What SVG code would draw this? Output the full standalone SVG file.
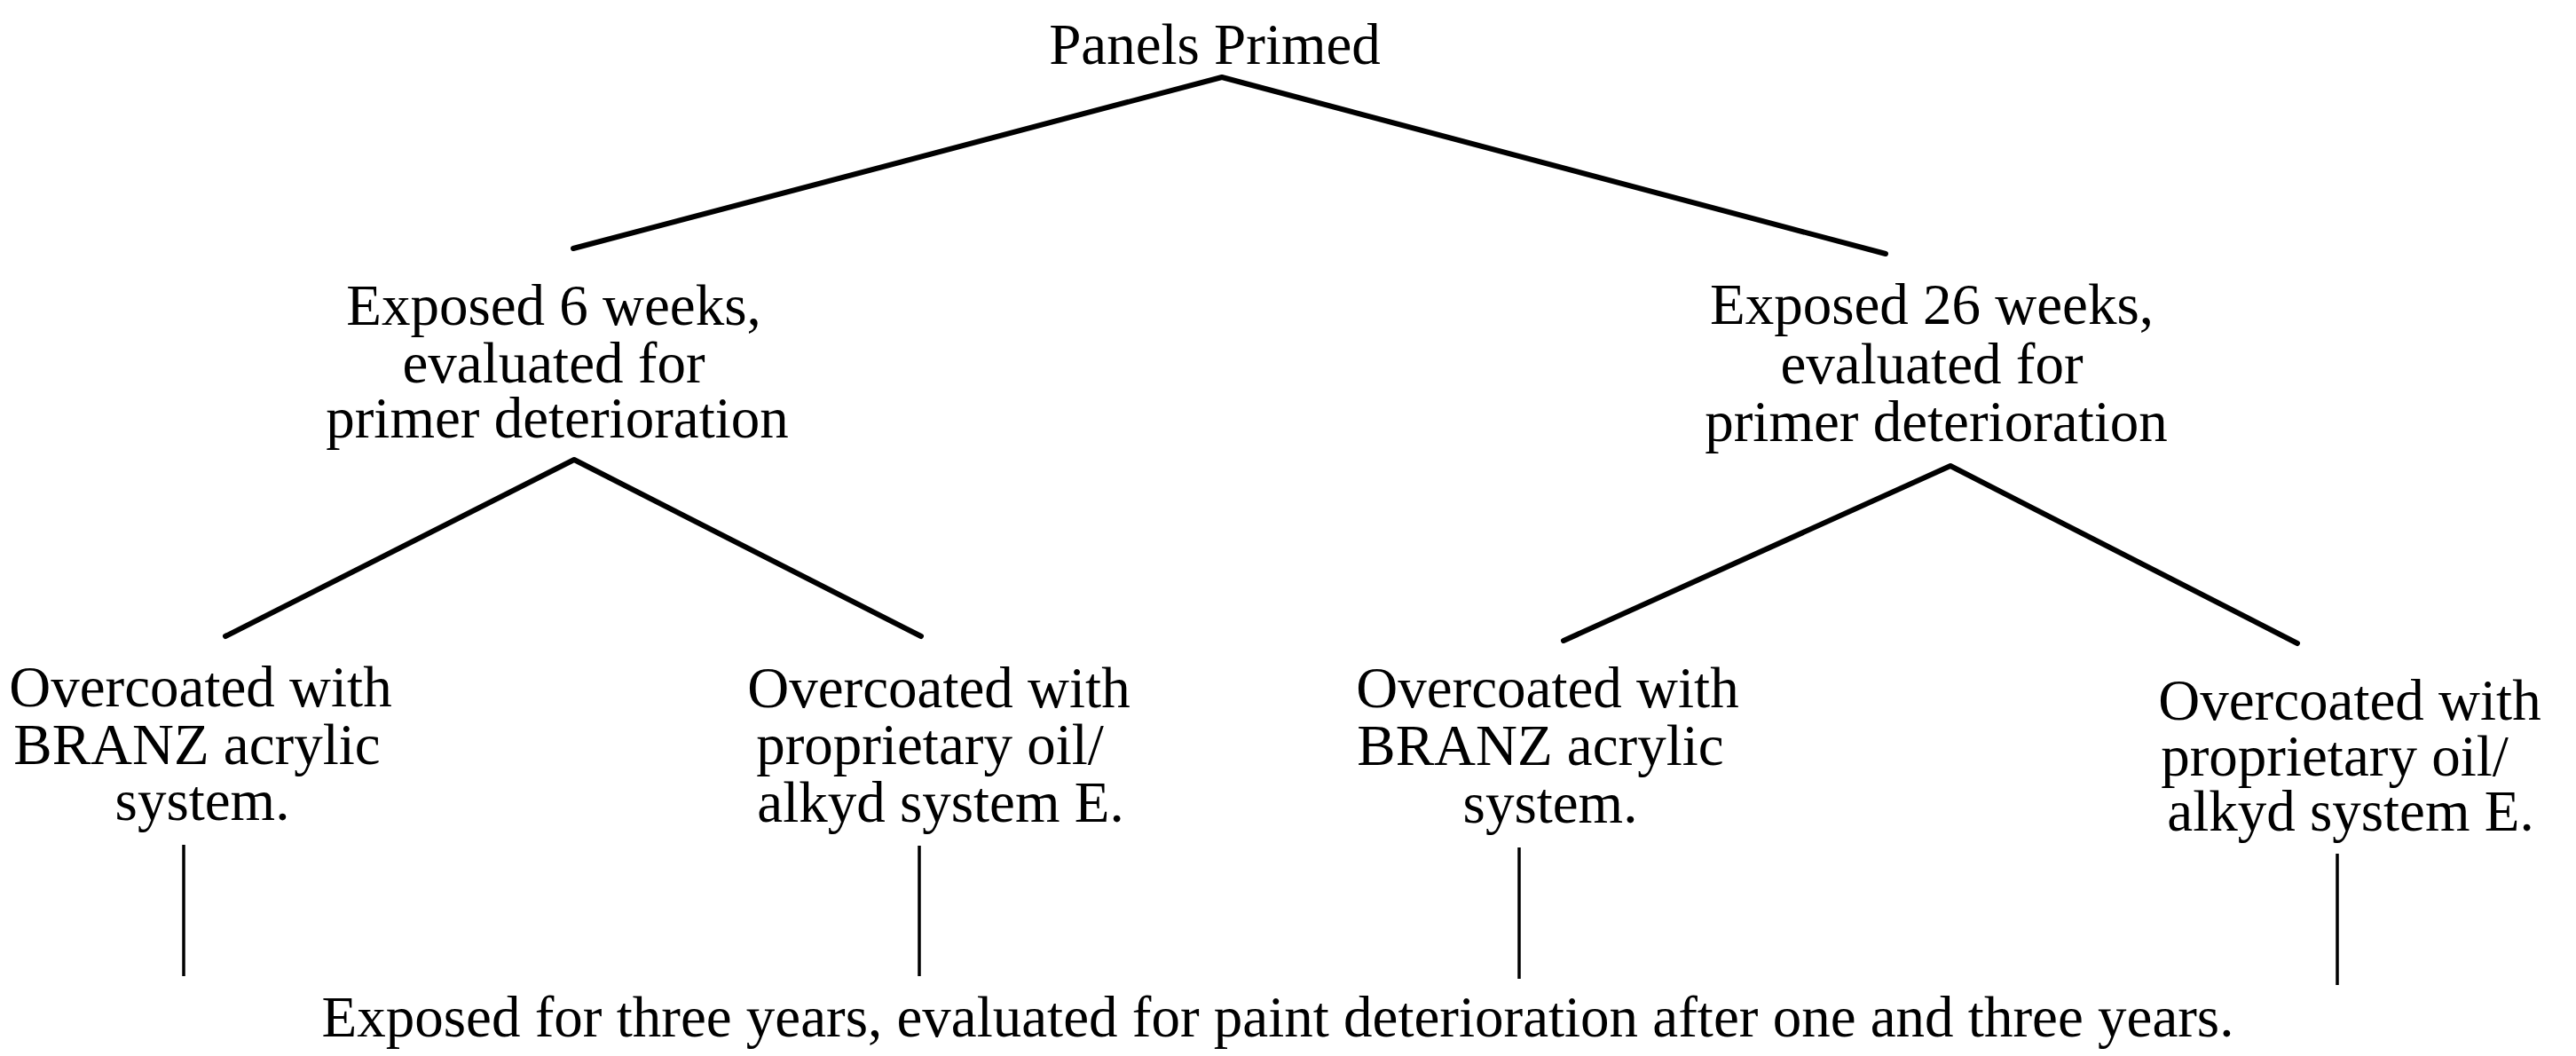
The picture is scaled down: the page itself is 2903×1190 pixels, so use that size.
<svg xmlns="http://www.w3.org/2000/svg" width="2903" height="1190" viewBox="0 0 2903 1190">
<style>
  .t { font-family: "Liberation Serif", "Times New Roman", serif; font-size: 65px; fill: #000; text-anchor: middle; }
  .branch { fill: none; stroke: #000; stroke-width: 6; stroke-linecap: round; stroke-linejoin: round; }
  .stem { fill: none; stroke: #000; stroke-width: 3.5; stroke-linecap: butt; }
</style>
<rect width="2903" height="1190" fill="#fff"/>
<g id="connectors">
  <polyline class="branch" points="646,280 1377,87 2125,286"/>
  <polyline class="branch" points="254,717 647,518 1038,717"/>
  <polyline class="branch" points="1762,722 2198,525 2589,725"/>
  <line class="stem" x1="207" y1="952" x2="207" y2="1100"/>
  <line class="stem" x1="1036" y1="953" x2="1036" y2="1100"/>
  <line class="stem" x1="1712" y1="955" x2="1712" y2="1103"/>
  <line class="stem" x1="2634" y1="962" x2="2634" y2="1110"/>
</g>
<g id="node-panels-primed">
  <text class="t" x="1369" y="72">Panels Primed</text>
</g>
<g id="node-exposed-6">
  <text class="t" x="624" y="366">Exposed 6 weeks,</text>
  <text class="t" x="624" y="431">evaluated for</text>
  <text class="t" x="628" y="493">primer deterioration</text>
</g>
<g id="node-exposed-26">
  <text class="t" x="2177" y="365">Exposed 26 weeks,</text>
  <text class="t" x="2177" y="432">evaluated for</text>
  <text class="t" x="2182" y="497">primer deterioration</text>
</g>
<g id="node-6-acrylic">
  <text class="t" x="226" y="796">Overcoated with</text>
  <text class="t" x="222" y="861">BRANZ acrylic</text>
  <text class="t" x="228" y="924">system.</text>
</g>
<g id="node-6-alkyd">
  <text class="t" x="1058" y="797">Overcoated with</text>
  <text class="t" x="1048" y="861">proprietary oil/</text>
  <text class="t" x="1060" y="926">alkyd system E.</text>
</g>
<g id="node-26-acrylic">
  <text class="t" x="1744" y="797">Overcoated with</text>
  <text class="t" x="1736" y="862">BRANZ acrylic</text>
  <text class="t" x="1747" y="927">system.</text>
</g>
<g id="node-26-alkyd">
  <text class="t" x="2648" y="811">Overcoated with</text>
  <text class="t" x="2631" y="874">proprietary oil/</text>
  <text class="t" x="2649" y="936">alkyd system E.</text>
</g>
<g id="node-three-years">
  <text class="t" x="1440" y="1168">Exposed for three years, evaluated for paint deterioration after one and three years.</text>
</g>
</svg>
